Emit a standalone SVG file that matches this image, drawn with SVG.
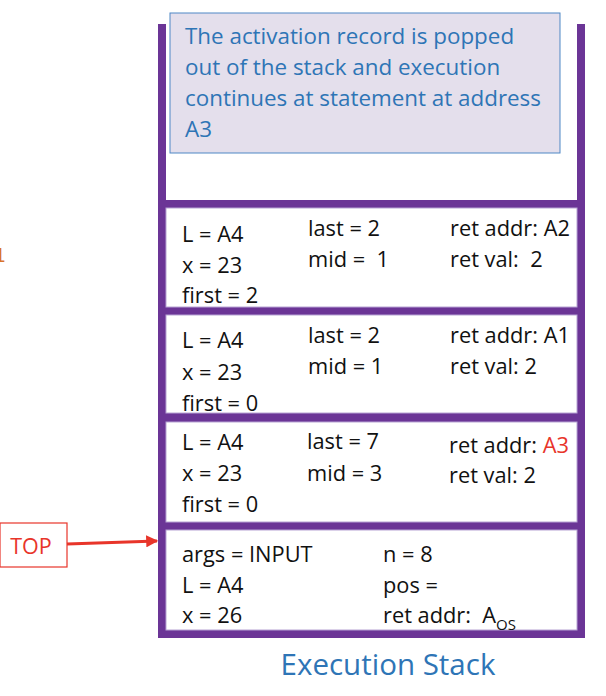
<svg xmlns="http://www.w3.org/2000/svg" width="606" height="696" viewBox="0 0 606 696">
<defs>
<style>
.t{font-family:"Open Sans","Liberation Sans",sans-serif;font-size:21.8px;fill:#111}
.b{font-family:"Open Sans","Liberation Sans",sans-serif;fill:#2e75b6}
.r{fill:#e8352a}
.rec{fill:#fff;stroke:#b7a3d3;stroke-width:1}
.pur{fill:#6b3596}
</style>
<marker id="ah" viewBox="0 0 10 10" refX="9" refY="5" markerWidth="4" markerHeight="4" orient="auto">
<path d="M0,0 L10,5 L0,10 z" fill="#e8352a"/>
</marker>
</defs>
<rect width="606" height="696" fill="#fff"/>

<g id="partial-label">
<text x="-6" y="262" font-family="DejaVu Sans" font-size="19" fill="#d9742c">1</text>
</g>

<g id="stack-frame">
<rect class="pur" x="158" y="24" width="8" height="614"/>
<rect class="pur" x="577" y="24" width="8" height="614"/>
<rect class="pur" x="158" y="200" width="427" height="438"/>
</g>

<g id="note">
<rect x="170" y="13" width="390" height="140" fill="#e4dfec" stroke="#4f87c5" stroke-width="1"/>
<text class="b" font-size="22.4" x="185" y="44">The activation record is popped</text>
<text class="b" font-size="22.4" x="185" y="75">out of the stack and execution</text>
<text class="b" font-size="22.4" x="185" y="106">continues at statement at address</text>
<text class="b" font-size="22.4" x="185" y="137">A3</text>
</g>

<g id="record1">
<rect class="rec" x="166" y="208" width="411" height="99"/>
<text class="t" x="182" y="242">L = A4</text>
<text class="t" x="182" y="273">x = 23</text>
<text class="t" x="182" y="303">first = 2</text>
<text class="t" x="308" y="236">last = 2</text>
<text class="t" x="308" y="267" xml:space="preserve">mid =  1</text>
<text class="t" x="450" y="236">ret addr: A2</text>
<text class="t" x="450" y="267" xml:space="preserve">ret val:  2</text>
</g>

<g id="record2">
<rect class="rec" x="166" y="315" width="411" height="98"/>
<text class="t" x="182" y="348">L = A4</text>
<text class="t" x="182" y="380">x = 23</text>
<text class="t" x="182" y="411">first = 0</text>
<text class="t" x="308" y="343">last = 2</text>
<text class="t" x="308" y="374">mid = 1</text>
<text class="t" x="450" y="343">ret addr: A1</text>
<text class="t" x="450" y="374">ret val: 2</text>
</g>

<g id="record3">
<rect class="rec" x="166" y="422" width="411" height="100"/>
<text class="t" x="182" y="450">L = A4</text>
<text class="t" x="182" y="481">x = 23</text>
<text class="t" x="182" y="512">first = 0</text>
<text class="t" x="307" y="449">last = 7</text>
<text class="t" x="307" y="481">mid = 3</text>
<text class="t" x="449" y="453">ret addr: <tspan class="r">A3</tspan></text>
<text class="t" x="449" y="483">ret val: 2</text>
</g>

<g id="record4">
<rect class="rec" x="166" y="530" width="411" height="100"/>
<text class="t" x="182" y="562">args = INPUT</text>
<text class="t" x="182" y="593">L = A4</text>
<text class="t" x="182" y="623">x = 26</text>
<text class="t" x="383" y="562">n = 8</text>
<text class="t" x="383" y="593">pos =</text>
<text class="t" x="383" y="623" xml:space="preserve">ret addr:  A<tspan font-size="15" dy="7">OS</tspan></text>
</g>

<g id="top-label">
<rect x="0" y="523" width="67" height="44" fill="#fff" stroke="#e8352a" stroke-width="1.2"/>
<text x="31" y="554" text-anchor="middle" font-family="Open Sans, Liberation Sans, sans-serif" font-size="21.5" fill="#e8352a">TOP</text>
</g>

<g id="connectors">
<line x1="67" y1="544" x2="157" y2="541" stroke="#e8352a" stroke-width="3" marker-end="url(#ah)"/>
</g>

<g id="caption">
<text class="b" x="388" y="675" text-anchor="middle" font-size="29.5">Execution Stack</text>
</g>
</svg>
